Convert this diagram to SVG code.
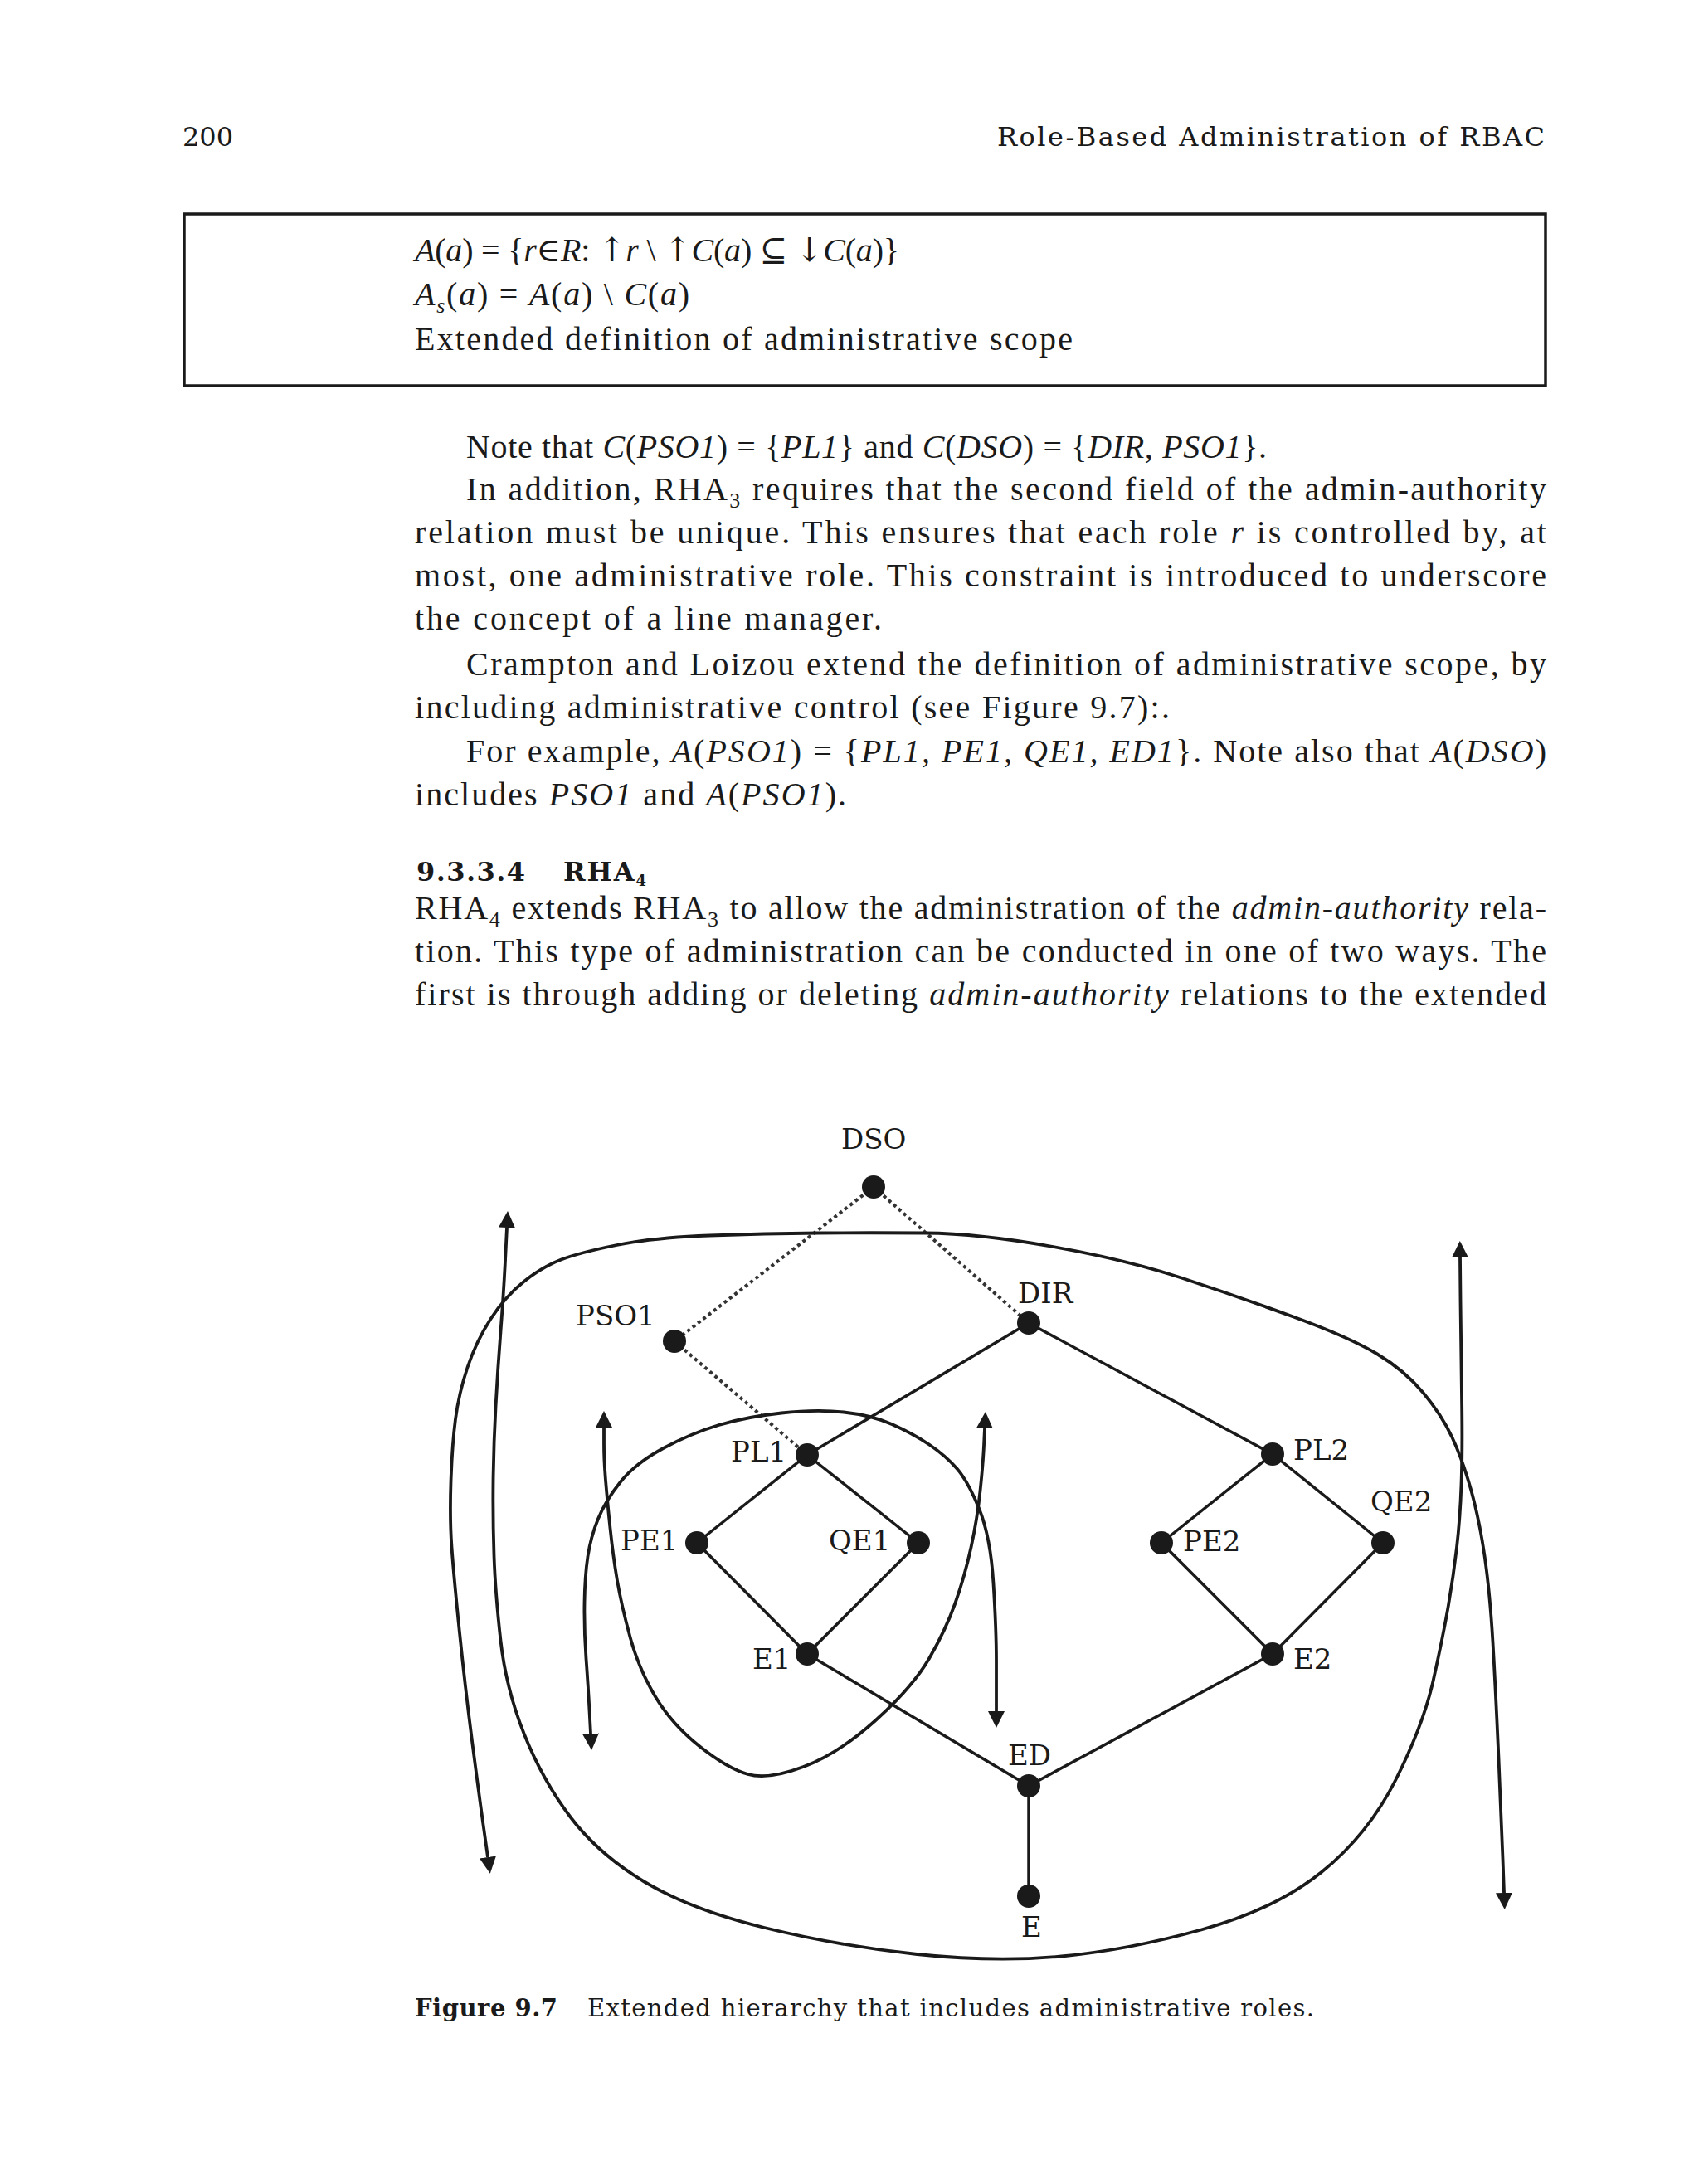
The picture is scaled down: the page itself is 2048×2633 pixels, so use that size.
<svg xmlns="http://www.w3.org/2000/svg" width="2048" height="2633" viewBox="0 0 2048 2633">
<defs>
<style>
.body{font-family:"Liberation Serif","DejaVu Serif",serif;font-size:40px;fill:#1a1a1a}
.it{font-style:italic}
.sym{font-family:"DejaVu Serif",serif}
.slab{font-family:"DejaVu Serif",serif;fill:#1a1a1a}
.lbl{font-family:"DejaVu Serif",serif;font-size:34px;fill:#1a1a1a}
.node{fill:#1a1a1a}
.edge{stroke:#1a1a1a;stroke-width:3.5;fill:none}
.dot{stroke:#333333;stroke-width:4;stroke-dasharray:4 4;fill:none}
.curve{stroke:#1a1a1a;stroke-width:3.8;fill:none;marker-start:url(#ah);marker-end:url(#ah)}
</style>
<marker id="ah" viewBox="0 -10 20 20" refX="0" refY="0" markerWidth="20" markerHeight="20" markerUnits="userSpaceOnUse" orient="auto-start-reverse">
<path d="M0,-10 L20,0 L0,10 z" fill="#1a1a1a"/>
</marker>
</defs>
<rect width="2048" height="2633" fill="#ffffff"/>

<!-- page header -->
<text class="slab" x="220" y="176" font-size="32">200</text>
<text class="slab" x="1202" y="176" font-size="32" textLength="660" lengthAdjust="spacing">Role-Based Administration of RBAC</text>

<!-- definition box -->
<rect x="222" y="258" width="1641" height="207" fill="none" stroke="#1a1a1a" stroke-width="3.5"/>
<text class="body" x="500" y="315" textLength="584" lengthAdjust="spacing"><tspan class="it">A</tspan>(<tspan class="it">a</tspan>) = {<tspan class="it">r</tspan><tspan class="sym">∈</tspan><tspan class="it">R</tspan>: <tspan class="sym">↑</tspan><tspan class="it">r</tspan> \ <tspan class="sym">↑</tspan><tspan class="it">C</tspan>(<tspan class="it">a</tspan>) <tspan class="sym">⊆</tspan> <tspan class="sym">↓</tspan><tspan class="it">C</tspan>(<tspan class="it">a</tspan>)}</text>
<text class="body" x="500" y="368" textLength="331" lengthAdjust="spacing"><tspan class="it">A</tspan><tspan class="it" font-size="26" dy="9">s</tspan><tspan dy="-9">(</tspan><tspan class="it">a</tspan>) = <tspan class="it">A</tspan>(<tspan class="it">a</tspan>) \ <tspan class="it">C</tspan>(<tspan class="it">a</tspan>)</text>
<text class="body" x="500" y="422" textLength="793" lengthAdjust="spacing">Extended definition of administrative scope</text>

<!-- paragraphs -->
<text class="body" x="562" y="552" textLength="965" lengthAdjust="spacing">Note that <tspan class="it">C</tspan>(<tspan class="it">PSO1</tspan>) = {<tspan class="it">PL1</tspan>} and <tspan class="it">C</tspan>(<tspan class="it">DSO</tspan>) = {<tspan class="it">DIR, PSO1</tspan>}.</text>
<text class="body" x="562" y="603" textLength="1302" lengthAdjust="spacing">In addition, RHA<tspan font-size="26" dy="9">3</tspan><tspan dy="-9"> requires that the second field of the admin-authority</tspan></text>
<text class="body" x="500" y="655" textLength="1364" lengthAdjust="spacing">relation must be unique. This ensures that each role <tspan class="it">r</tspan> is controlled by, at</text>
<text class="body" x="500" y="707" textLength="1364" lengthAdjust="spacing">most, one administrative role. This constraint is introduced to underscore</text>
<text class="body" x="500" y="759" textLength="563" lengthAdjust="spacing">the concept of a line manager.</text>
<text class="body" x="562" y="814" textLength="1302" lengthAdjust="spacing">Crampton and Loizou extend the definition of administrative scope, by</text>
<text class="body" x="500" y="866" textLength="910" lengthAdjust="spacing">including administrative control (see Figure 9.7):.</text>
<text class="body" x="562" y="919" textLength="1302" lengthAdjust="spacing">For example, <tspan class="it">A</tspan>(<tspan class="it">PSO1</tspan>) = {<tspan class="it">PL1, PE1, QE1, ED1</tspan>}. Note also that <tspan class="it">A</tspan>(<tspan class="it">DSO</tspan>)</text>
<text class="body" x="500" y="971" textLength="520" lengthAdjust="spacing">includes <tspan class="it">PSO1</tspan> and <tspan class="it">A</tspan>(<tspan class="it">PSO1</tspan>).</text>

<!-- section heading -->
<text class="slab" x="502" y="1062" font-size="32" font-weight="bold" textLength="131" lengthAdjust="spacing">9.3.3.4</text>
<text class="slab" x="679" y="1062" font-size="32" font-weight="bold" textLength="100" lengthAdjust="spacing">RHA<tspan font-size="18" dy="6">4</tspan></text>

<text class="body" x="500" y="1108" textLength="1364" lengthAdjust="spacing">RHA<tspan font-size="26" dy="9">4</tspan><tspan dy="-9"> extends RHA</tspan><tspan font-size="26" dy="9">3</tspan><tspan dy="-9"> to allow the administration of the </tspan><tspan class="it">admin-authority</tspan> rela-</text>
<text class="body" x="500" y="1160" textLength="1364" lengthAdjust="spacing">tion. This type of administration can be conducted in one of two ways. The</text>
<text class="body" x="500" y="1212" textLength="1364" lengthAdjust="spacing">first is through adding or deleting <tspan class="it">admin-authority</tspan> relations to the extended</text>

<!-- connectors -->
<g id="connectors">
  <line class="dot" x1="1053" y1="1431" x2="813" y2="1617"/>
  <line class="dot" x1="1053" y1="1431" x2="1240" y2="1595"/>
  <line class="dot" x1="813" y1="1617" x2="973" y2="1754"/>
  <line class="edge" x1="1240" y1="1595" x2="973" y2="1754"/>
  <line class="edge" x1="1240" y1="1595" x2="1534" y2="1753"/>
  <line class="edge" x1="973" y1="1754" x2="840" y2="1860"/>
  <line class="edge" x1="973" y1="1754" x2="1107" y2="1860"/>
  <line class="edge" x1="840" y1="1860" x2="973" y2="1994"/>
  <line class="edge" x1="1107" y1="1860" x2="973" y2="1994"/>
  <line class="edge" x1="1534" y1="1753" x2="1400" y2="1860"/>
  <line class="edge" x1="1534" y1="1753" x2="1667" y2="1860"/>
  <line class="edge" x1="1400" y1="1860" x2="1534" y2="1994"/>
  <line class="edge" x1="1667" y1="1860" x2="1534" y2="1994"/>
  <line class="edge" x1="973" y1="1994" x2="1240" y2="2153"/>
  <line class="edge" x1="1534" y1="1994" x2="1240" y2="2153"/>
  <line class="edge" x1="1240" y1="2153" x2="1240" y2="2286"/>
  <!-- large crossing double arrows -->
  <path class="curve" d="M611,1480 L609,1520 Q607,1560 603.5,1605 Q600,1650 597.5,1696 Q595,1742 594.5,1786.5 Q594,1831 595.5,1875.5 Q597,1920 603.5,1978 Q610,2036 632,2091 Q654,2146 687.5,2190.5 Q721,2235 776.5,2268.5 Q832,2302 921.5,2324 Q1011,2346 1105.5,2356 Q1200,2366 1279.5,2358.5 Q1359,2351 1448,2326.5 Q1537,2302 1593,2257 Q1649,2212 1682.5,2145.5 Q1716,2079 1728,2024.5 Q1740,1970 1746,1935 Q1752,1900 1756,1865.5 Q1760,1831 1761.5,1789.5 Q1763,1748 1762,1684 Q1761,1620 1760.5,1568 L1760,1516"/>
  <path class="curve" d="M588,2239 L583,2203.5 Q578,2168 569.5,2102.5 Q561,2037 554,1968.5 Q547,1900 544.5,1865.5 Q542,1831 543.5,1786.5 Q545,1742 549,1711 Q553,1680 563.5,1648.5 Q574,1617 591.5,1590 Q609,1563 631.5,1545 Q654,1527 676.5,1518.5 Q699,1510 743.5,1501 Q788,1492 855,1489.5 Q922,1487 986,1486.5 Q1050,1486 1115,1486.5 Q1180,1487 1269.5,1503 Q1359,1519 1425.5,1541 Q1492,1563 1559,1587.5 Q1626,1612 1659.5,1632 Q1693,1652 1715.5,1679 Q1738,1706 1750.5,1733 Q1763,1760 1773,1795.5 Q1783,1831 1789.5,1875.5 Q1796,1920 1799.5,1980 Q1803,2040 1806.5,2120 Q1810,2200 1811.5,2241 L1813,2282"/>
  <!-- small crossing double arrows -->
  <path class="curve" d="M728,1721 L728,1740.5 Q728,1760 730,1784.5 Q732,1809 735.5,1842.5 Q739,1876 744,1905.5 Q749,1935 759.5,1973.5 Q770,2012 790,2045.5 Q810,2079 843.5,2105.5 Q877,2132 901.5,2139 Q926,2146 968.5,2130 Q1011,2114 1055.5,2074 Q1100,2034 1120,1999.5 Q1140,1965 1151.5,1932.5 Q1163,1900 1170.5,1865.5 Q1178,1831 1181.5,1797.5 Q1185,1764 1186,1743 L1187,1722"/>
  <path class="curve" d="M712,2090 L710.5,2062 Q709,2034 706.5,1999.5 Q704,1965 704.5,1932.5 Q705,1900 708.5,1876.5 Q712,1853 721,1831 Q730,1809 748,1786.5 Q766,1764 799.5,1746 Q833,1728 866.5,1718 Q900,1708 942,1703.5 Q984,1699 1017,1702.5 Q1050,1706 1075,1717 Q1100,1728 1120,1741.5 Q1140,1755 1153.5,1770.5 Q1167,1786 1180.5,1819.5 Q1194,1853 1197.5,1909 Q1201,1965 1201,2002.5 L1201,2063"/>
</g>

<!-- nodes -->
<g id="DSO"><circle class="node" cx="1053" cy="1431" r="14"/><text class="lbl" x="1014" y="1385">DSO</text></g>
<g id="PSO1"><circle class="node" cx="813" cy="1617" r="14"/><text class="lbl" x="694" y="1598">PSO1</text></g>
<g id="DIR"><circle class="node" cx="1240" cy="1595" r="14"/><text class="lbl" x="1227" y="1571">DIR</text></g>
<g id="PL1"><circle class="node" cx="973" cy="1754" r="14"/><text class="lbl" x="881" y="1762">PL1</text></g>
<g id="PL2"><circle class="node" cx="1534" cy="1753" r="14"/><text class="lbl" x="1559" y="1760">PL2</text></g>
<g id="PE1"><circle class="node" cx="840" cy="1860" r="14"/><text class="lbl" x="748" y="1869">PE1</text></g>
<g id="QE1"><circle class="node" cx="1107" cy="1860" r="14"/><text class="lbl" x="999" y="1869">QE1</text></g>
<g id="PE2"><circle class="node" cx="1400" cy="1860" r="14"/><text class="lbl" x="1426" y="1870">PE2</text></g>
<g id="QE2"><circle class="node" cx="1667" cy="1860" r="14"/><text class="lbl" x="1652" y="1822">QE2</text></g>
<g id="E1"><circle class="node" cx="973" cy="1994" r="14"/><text class="lbl" x="907" y="2012">E1</text></g>
<g id="E2"><circle class="node" cx="1534" cy="1994" r="14"/><text class="lbl" x="1559" y="2012">E2</text></g>
<g id="ED"><circle class="node" cx="1240" cy="2153" r="14"/><text class="lbl" x="1215" y="2128">ED</text></g>
<g id="E"><circle class="node" cx="1240" cy="2286" r="14"/><text class="lbl" x="1231" y="2335">E</text></g>

<!-- caption -->
<text class="slab" x="500" y="2431" font-size="29" font-weight="bold" textLength="172" lengthAdjust="spacing">Figure 9.7</text>
<text class="slab" x="708" y="2431" font-size="29" textLength="876" lengthAdjust="spacing">Extended hierarchy that includes administrative roles.</text>
</svg>
